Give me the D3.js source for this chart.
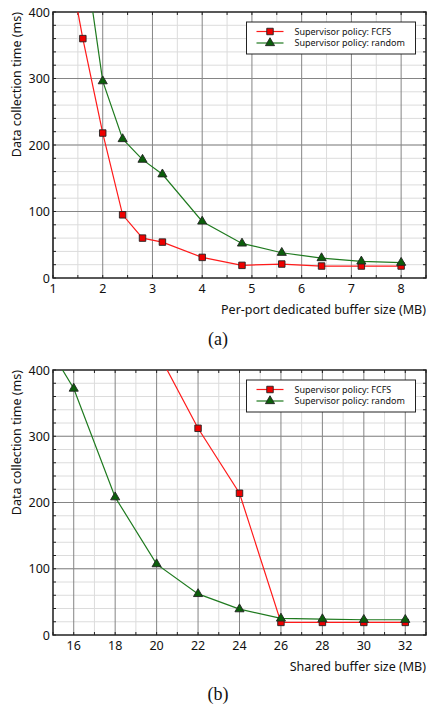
<!DOCTYPE html>
<html lang="en">
<head>
<meta charset="UTF-8">
<title>Data collection time</title>
<script src="https://d3js.org/d3.v7.min.js"></script>
<style>
  body { margin: 0; background: #fff; }
  svg { display: block; font-family: "Noto Sans", sans-serif; }
</style>
</head>
<body>
<div id="chart"></div>
<script>
// ---- data ----
// (a) per-port dedicated buffer
const dedicatedSizes  = [1.2, 1.6, 2.0, 2.4, 2.8, 3.2, 4.0, 4.8, 5.6, 6.4, 7.2, 8.0];
const dedicatedFcfs   = [520, 360, 218, 95, 60, 54, 31, 19, 21, 18, 18, 18];
const dedicatedRandom = [null, 505, 296, 209, 178, 156, 85, 52, 38, 30, 25, 23];
const dedicatedTicks  = [1, 2, 3, 4, 5, 6, 7, 8];

// (b) shared buffer
const sharedSizes  = [14, 16, 18, 20, 22, 24, 26, 28, 30, 32];
const sharedFcfs   = [null, null, null, 430, 312, 214, 19, 19, 19, 19];
const sharedRandom = [476, 372, 208, 107, 62, 39, 25, 24, 23, 23];
const sharedTicks  = [16, 18, 20, 22, 24, 26, 28, 30, 32];

const yTicks = [0, 100, 200, 300, 400];
const seriesNames = ["Supervisor policy: FCFS", "Supervisor policy: random"];

var W = 427, H = 708;
var svg = d3.select("#chart").append("svg")
    .attr("width", W).attr("height", H);

function drawPanel(opt) {
  var left = 53, right = 426, top = opt.top, bottom = opt.bottom;
  var x = d3.scaleLinear().domain(opt.xDomain).range([left, right]);
  var y = d3.scaleLinear().domain([0, 400]).range([bottom, top]);
  var g = svg.append("g");

  var clipId = "clip-" + opt.id;
  svg.append("clipPath").attr("id", clipId)
    .append("rect").attr("x", left).attr("y", top)
    .attr("width", right - left).attr("height", bottom - top);

  // minor grid
  g.append("g").selectAll("line").data(opt.xMinor).enter().append("line")
    .attr("x1", d => x(d)).attr("x2", d => x(d))
    .attr("y1", top).attr("y2", bottom)
    .attr("stroke", "#dcdcdc").attr("stroke-width", 1);
  g.append("g").selectAll("line").data(d3.range(20, 400, 20)).enter().append("line")
    .attr("x1", left).attr("x2", right)
    .attr("y1", d => y(d)).attr("y2", d => y(d))
    .attr("stroke", "#dcdcdc").attr("stroke-width", 1);
  // major grid
  g.append("g").selectAll("line").data(opt.xTicks).enter().append("line")
    .attr("x1", d => x(d)).attr("x2", d => x(d))
    .attr("y1", top).attr("y2", bottom)
    .attr("stroke", "#858585").attr("stroke-width", 1);
  g.append("g").selectAll("line").data([100, 200, 300]).enter().append("line")
    .attr("x1", left).attr("x2", right)
    .attr("y1", d => y(d)).attr("y2", d => y(d))
    .attr("stroke", "#858585").attr("stroke-width", 1);

  // inward ticks on all four sides
  var tk = 3;
  var xAll = opt.xTicks.concat(opt.xMinor);
  var yAll = d3.range(0, 401, 20);
  var ticks = g.append("g").attr("stroke", "#222").attr("stroke-width", 1);
  xAll.forEach(function (d) {
    ticks.append("line").attr("x1", x(d)).attr("x2", x(d)).attr("y1", bottom).attr("y2", bottom - tk);
    ticks.append("line").attr("x1", x(d)).attr("x2", x(d)).attr("y1", top).attr("y2", top + tk);
  });
  yAll.forEach(function (d) {
    ticks.append("line").attr("x1", left).attr("x2", left + tk).attr("y1", y(d)).attr("y2", y(d));
    ticks.append("line").attr("x1", right).attr("x2", right - tk).attr("y1", y(d)).attr("y2", y(d));
  });

  // frame
  g.append("rect").attr("x", left).attr("y", top)
    .attr("width", right - left).attr("height", bottom - top)
    .attr("fill", "none").attr("stroke", "#222").attr("stroke-width", 1.5);

  // tick labels
  g.append("g").selectAll("text").data(yTicks).enter().append("text")
    .attr("x", left - 3).attr("y", d => y(d) + 4.5)
    .attr("text-anchor", "end").attr("font-size", 12.5).attr("fill", "#111")
    .text(d => d);
  g.append("g").selectAll("text").data(opt.xTicks).enter().append("text")
    .attr("x", d => x(d)).attr("y", bottom + 15)
    .attr("text-anchor", "middle").attr("font-size", 12.5).attr("fill", "#111")
    .text(d => d);

  // axis titles
  g.append("text")
    .attr("transform", "translate(21," + top + ") rotate(-90)")
    .attr("text-anchor", "end").attr("font-size", 12.5).attr("fill", "#111")
    .text("Data collection time (ms)");
  g.append("text")
    .attr("x", right).attr("y", bottom + 36)
    .attr("text-anchor", "end").attr("font-size", 12.5).attr("fill", "#111")
    .text(opt.xTitle);

  // series
  var series = [
    { name: seriesNames[0], vals: opt.fcfs, line: "#ff1a1a", fill: "#ee0000", shape: d3.symbolSquare },
    { name: seriesNames[1], vals: opt.random, line: "#1f7a1f", fill: "#0b5e0b", shape: d3.symbolTriangle }
  ];
  var plot = g.append("g").attr("clip-path", "url(#" + clipId + ")");
  series.forEach(function (s) {
    var pts = opt.sizes.map((v, i) => [v, s.vals[i]]).filter(p => p[1] != null);
    plot.append("path").datum(pts)
      .attr("fill", "none").attr("stroke", s.line).attr("stroke-width", 1.2)
      .attr("d", d3.line().x(p => x(p[0])).y(p => y(p[1])));
    plot.append("g").selectAll("path").data(pts).enter().append("path")
      .attr("transform", p => "translate(" + x(p[0]) + "," + y(p[1]) + ")")
      .attr("d", d3.symbol().type(s.shape).size(s.shape === d3.symbolSquare ? 42 : 36))
      .attr("fill", s.fill).attr("stroke", "#222").attr("stroke-width", 0.9);
  });

  // legend
  var lx = 246.5, ly = top + 10, lw = 169, lh = 32;
  var lg = g.append("g");
  lg.append("rect").attr("x", lx).attr("y", ly).attr("width", lw).attr("height", lh)
    .attr("fill", "#fff").attr("stroke", "#222").attr("stroke-width", 1);
  series.forEach(function (s, i) {
    var cy = ly + 9.5 + i * 11.5;
    lg.append("line").attr("x1", lx + 10).attr("x2", lx + 37)
      .attr("y1", cy).attr("y2", cy).attr("stroke", s.line).attr("stroke-width", 1.2);
    lg.append("path").attr("transform", "translate(" + (lx + 23.5) + "," + cy + ")")
      .attr("d", d3.symbol().type(s.shape).size(s.shape === d3.symbolSquare ? 42 : 36))
      .attr("fill", s.fill).attr("stroke", "#222").attr("stroke-width", 0.9);
    lg.append("text").attr("x", lx + 48).attr("y", cy + 3.2)
      .attr("font-size", 9).attr("fill", "#111").text(s.name);
  });

  // caption
  svg.append("text").attr("x", 218).attr("y", opt.captionY)
    .attr("text-anchor", "middle")
    .attr("font-family", "'Liberation Serif', 'DejaVu Serif', serif")
    .attr("font-size", 18).attr("fill", "#111")
    .text(opt.caption);
}

drawPanel({
  id: "a", top: 12, bottom: 278, xDomain: [1, 8.5],
  xTicks: dedicatedTicks, xMinor: d3.range(1.5, 8.6, 1),
  sizes: dedicatedSizes, fcfs: dedicatedFcfs, random: dedicatedRandom,
  xTitle: "Per-port dedicated buffer size (MB)", caption: "(a)", captionY: 345
});
drawPanel({
  id: "b", top: 370, bottom: 635, xDomain: [15, 33],
  xTicks: sharedTicks, xMinor: d3.range(15, 34, 2),
  sizes: sharedSizes, fcfs: sharedFcfs, random: sharedRandom,
  xTitle: "Shared buffer size (MB)", caption: "(b)", captionY: 700
});
</script>
</body>
</html>
